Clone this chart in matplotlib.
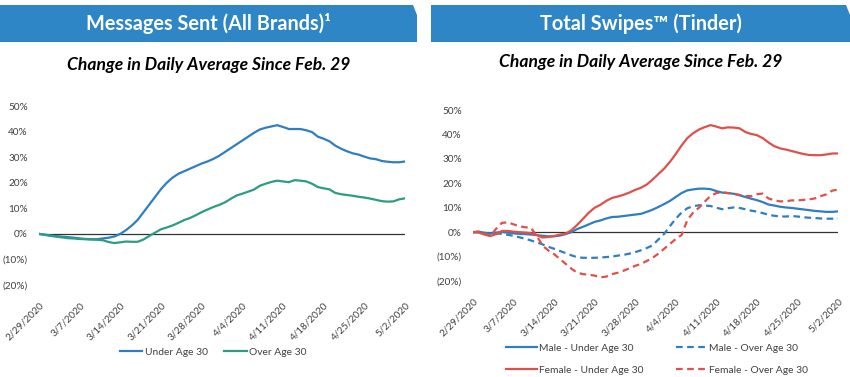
import matplotlib
matplotlib.use("Agg")
import matplotlib.pyplot as plt
from matplotlib.patches import Polygon
from matplotlib.ticker import FuncFormatter
import numpy as np

plt.rcParams['font.family'] = ['Lato', 'DejaVu Sans']

# --- data: daily change since Feb. 29 (%), 2/29/2020 .. 5/2/2020 ---
tick_labels = ["2/29/2020", "3/7/2020", "3/14/2020", "3/21/2020", "3/28/2020",
               "4/4/2020", "4/11/2020", "4/18/2020", "4/25/2020", "5/2/2020"]

msg_under30 = [0, -0.3, -0.6, -0.9, -1.1, -1.3, -1.5, -1.8, -2.0, -2.1,
               -2.1, -1.8, -1.5, -1.0, 0.0, 1.5, 3.3, 5.5, 8.5, 11.5,
               14.5, 17.5, 20.0, 22.0, 23.5, 24.5, 25.5, 26.5, 27.5, 28.3,
               29.3, 30.5, 32.0, 33.5, 35.0, 36.5, 38.0, 39.5, 40.8, 41.5,
               42.0, 42.5, 41.8, 41.0, 41.0, 41.0, 40.5, 39.8, 38.0, 37.2,
               36.2, 34.5, 33.3, 32.3, 31.5, 31.0, 30.2, 29.5, 29.2, 28.5,
               28.2, 28.0, 28.0, 28.3]
msg_over30 = [0, -0.4, -0.8, -1.1, -1.4, -1.7, -1.8, -2.0, -2.1, -2.2,
              -2.3, -2.5, -3.2, -3.6, -3.3, -3.0, -3.1, -3.1, -2.2, -0.8,
              0.5, 1.8, 2.5, 3.3, 4.3, 5.4, 6.2, 7.3, 8.5, 9.5,
              10.5, 11.3, 12.3, 13.7, 15.0, 15.7, 16.5, 17.3, 18.8, 19.6,
              20.3, 20.8, 20.5, 20.2, 21.0, 20.8, 20.5, 19.6, 18.3, 17.8,
              17.4, 16.0, 15.5, 15.2, 14.9, 14.5, 14.2, 13.8, 13.3, 12.8,
              12.6, 12.7, 13.5, 13.9]

male_under30 = [0, 0.2, -0.3, -0.5, -0.2, 0.1, -0.2, -0.5, -0.7, -0.8,
                -1.0, -1.2, -1.5, -1.7, -1.7, -1.4, -0.8, 0.0, 1.3, 2.2,
                3.2, 4.2, 4.8, 5.6, 6.2, 6.3, 6.6, 6.9, 7.2, 7.5,
                8.3, 9.2, 10.3, 11.5, 12.8, 14.4, 16.0, 17.1, 17.5, 17.8,
                17.8, 17.6, 16.8, 16.2, 16.0, 15.7, 15.1, 14.4, 13.7, 13.1,
                12.3, 11.3, 10.9, 10.4, 10.1, 9.9, 9.6, 9.3, 9.0, 8.7,
                8.5, 8.3, 8.3, 8.5]
male_over30 = [0, 0.1, -0.3, -0.7, -0.6, -0.7, -1.1, -1.5, -2.1, -2.7,
               -3.4, -4.2, -5.0, -6.0, -6.8, -7.7, -8.6, -9.5, -10.3, -10.5,
               -10.5, -10.5, -10.4, -10.2, -10.0, -9.6, -9.3, -8.8, -8.2, -7.4,
               -6.5, -5.4, -3.0, -0.7, 2.5, 5.5, 8.0, 9.8, 10.6, 11.0,
               10.9, 10.7, 10.0, 9.4, 9.8, 10.1, 9.9, 9.4, 8.8, 8.4,
               7.8, 7.1, 6.7, 6.4, 6.4, 6.6, 6.4, 6.1, 5.9, 5.8,
               5.6, 5.5, 5.5, 5.6]
female_under30 = [0, -0.2, -1.0, -1.6, -0.8, 0.5, 0.5, 0.2, 0.0, -0.2,
                  -0.4, -1.2, -2.2, -2.0, -1.6, -1.0, -0.6, 0.8, 3.0, 5.5,
                  8.0, 10.0, 11.2, 12.8, 14.0, 14.6, 15.3, 16.2, 17.3, 18.2,
                  19.5, 21.5, 23.8, 26.0, 28.8, 32.0, 35.5, 38.5, 40.5, 42.0,
                  43.0, 43.8, 43.2, 42.5, 42.9, 42.8, 42.5, 41.0, 40.2, 39.7,
                  38.5, 36.7, 35.2, 34.3, 33.8, 33.2, 32.6, 32.0, 31.6, 31.5,
                  31.5, 31.8, 32.2, 32.2]
female_over30 = [0, 0.1, -0.6, -1.6, 1.4, 3.8, 4.0, 3.2, 2.4, 2.0,
                 1.8, -1.5, -5.5, -7.5, -9.0, -11.0, -13.0, -15.0, -16.6, -17.2,
                 -17.4, -17.8, -18.5, -18.2, -17.2, -16.6, -15.8, -14.8, -13.8, -13.0,
                 -11.8, -10.5, -8.8, -6.8, -4.8, -2.8, -1.2, 5.0, 8.0, 10.0,
                 12.5, 14.8, 16.0, 16.3, 16.0, 15.8, 15.2, 14.8, 14.7, 15.5,
                 15.8, 13.8, 13.0, 12.6, 12.6, 13.0, 13.0, 13.2, 13.4, 13.8,
                 14.7, 15.5, 17.0, 17.4]

BLUE = "#2E7EC1"
TEAL = "#2A9D84"
RED = "#E0504A"
HEADER = "#2F86C6"
TXT = "#404040"

W, H = 850, 377
fig = plt.figure(figsize=(8.5, 3.77), dpi=100)


def px(x0, y0, x1, y1):
    # pixel box (top-left origin) -> figure fraction rect
    return [x0 / W, 1 - y1 / H, (x1 - x0) / W, (y1 - y0) / H]


def pct(v, pos):
    v = int(round(v))
    return f"({abs(v)}%)" if v < 0 else f"{v}%"


def header(x0, x1, title, sub, sub_y):
    pts = [(x0, 5), (x1 - 4, 5), (x1, 15), (x1, 42), (x0, 42)]
    pts = [(x / W, 1 - y / H) for x, y in pts]
    fig.patches.append(Polygon(pts, closed=True, facecolor=HEADER, edgecolor="none",
                               transform=fig.transFigure))
    fig.text((x0 + x1) / 2 / W, 1 - 24 / H, title, color="white", fontsize=14.3,
             fontweight="bold", ha="center", va="center")
    fig.text((x0 + x1) / 2 / W, 1 - sub_y / H, sub, color="black", fontsize=12.6,
             fontweight="bold", style="italic", ha="center", va="center")


def style_axes(ax):
    days = np.arange(len(msg_under30))
    ax.set_xlim(0, days[-1])
    ax.set_ylim(-20, 50)
    ax.set_yticks([-20, -10, 0, 10, 20, 30, 40, 50])
    ax.yaxis.set_major_formatter(FuncFormatter(pct))
    ax.set_xticks(days[::7])
    ax.set_xticklabels(tick_labels, rotation=45, ha="right", rotation_mode="anchor")
    for s in ax.spines.values():
        s.set_visible(False)
    ax.axhline(0, color="#333333", lw=0.9, zorder=1)
    ax.tick_params(length=0, colors=TXT, labelsize=7.2)
    ax.tick_params(axis="x", pad=11)
    ax.tick_params(axis="y", pad=8)
    ax.patch.set_alpha(0)
    return days


# left panel
header(0, 417, "Messages Sent (All Brands)¹", "Change in Daily Average Since Feb. 29", 65)
ax1 = fig.add_axes(px(39, 106, 405, 285))
d = style_axes(ax1)
ax1.plot(d, msg_under30, color=BLUE, lw=1.6, label="Under Age 30")
ax1.plot(d, msg_over30, color=TEAL, lw=1.6, label="Over Age 30")
ax1.legend(loc="center", bbox_to_anchor=(213 / W, 1 - 352 / H), bbox_transform=fig.transFigure,
           ncol=2, frameon=False, fontsize=7.4, handlelength=2.2, handletextpad=0.2,
           columnspacing=1.6, labelcolor=TXT)

# right panel
header(431, 850, "Total Swipes\u2122 (Tinder)", "Change in Daily Average Since Feb. 29", 62)
ax2 = fig.add_axes(px(473, 110, 838, 281))
d = style_axes(ax2)
h1, = ax2.plot(d, male_under30, color=BLUE, lw=1.6, label="Male - Under Age 30")
h2, = ax2.plot(d, male_over30, color=BLUE, lw=1.6, ls=(0, (3, 2)), label="Male - Over Age 30")
h3, = ax2.plot(d, female_under30, color=RED, lw=1.6, label="Female - Under Age 30")
h4, = ax2.plot(d, female_over30, color=RED, lw=1.6, ls=(0, (3, 2)), label="Female - Over Age 30")
ax2.legend(handles=[h1, h3, h2, h4], loc="center",
           bbox_to_anchor=(657 / W, 1 - 359 / H), bbox_transform=fig.transFigure,
           ncol=2, frameon=False, fontsize=7.4, handlelength=3.0, handletextpad=0.2,
           columnspacing=3.1, labelspacing=1.25, labelcolor=TXT)

fig.savefig("out.png", dpi=100)
